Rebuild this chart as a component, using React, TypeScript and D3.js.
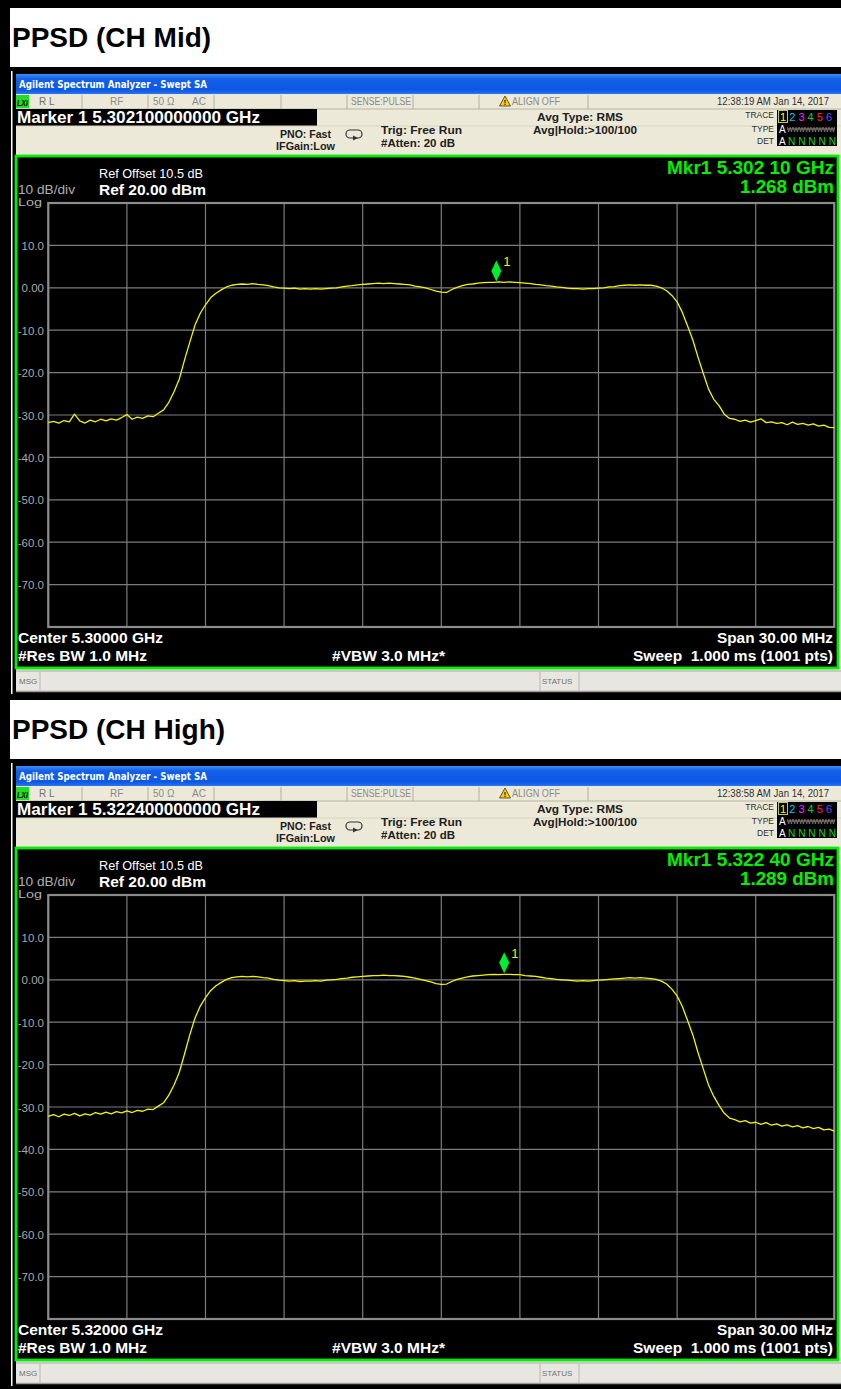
import React from "react";
import * as d3 from "d3";

const FONT = "'Liberation Sans', Arial, Helvetica, sans-serif";
const W = 841;
const H = 1389;
const PANEL_SHIFT = [0, 692];

// trace levels (dBm), sweep from -15 MHz to +15 MHz around center, 0.2 MHz step
const sweepStartMHz = -15;
const sweepStepMHz = 0.2;
const levelsMid = [
  -31.8, -31.5, -31.9, -31.3, -31.6, -29.8, -31.4, -31.9, -31.2, -31.6,
  -31.0, -31.4, -30.9, -31.2, -30.6, -29.9, -31.0, -30.5, -30.8, -30.2,
  -30.4, -29.6, -28.8, -27.0, -24.5, -21.5, -17.0, -12.8, -8.8, -6.0,
  -4.0, -2.3, -1.3, -0.5, 0.2, 0.6, 0.8, 0.9, 0.8, 1.0,
  0.8, 0.7, 0.5, 0.2, 0.0, -0.1, -0.2, -0.1, -0.3, -0.2,
  -0.3, -0.2, -0.3, -0.2, -0.1, 0.0, 0.2, 0.4, 0.5, 0.7,
  0.8, 0.9, 1.0, 1.1, 1.0, 1.1, 1.0, 0.9, 0.8, 0.7,
  0.4, 0.2, 0.0, -0.4, -0.8, -1.0, -1.1, -0.4, 0.1, 0.5,
  0.8, 0.9, 1.1, 1.2, 1.3, 1.3, 1.4, 1.3, 1.4, 1.3,
  1.2, 1.1, 1.0, 0.8, 0.7, 0.5, 0.4, 0.2, 0.1, -0.1,
  -0.2, -0.2, -0.3, -0.2, -0.2, -0.1, 0.0, 0.2, 0.3, 0.5,
  0.6, 0.7, 0.6, 0.7, 0.6, 0.6, 0.4, 0.0, -0.7, -1.8,
  -3.3, -5.8, -9.0, -12.3, -16.4, -20.2, -23.9, -26.3, -27.8, -29.8,
  -30.8, -31.0, -31.5, -31.2, -31.7, -31.3, -30.9, -31.8, -31.6, -32.0,
  -31.8, -32.3, -31.7, -32.2, -32.0, -32.4, -32.1, -32.6, -32.4, -32.9,
  -33.0,
];
const levelsHigh = [
  -32.2, -31.8, -32.3, -31.7, -32.0, -31.5, -32.1, -31.6, -31.9, -31.3,
  -31.7, -31.2, -31.6, -31.1, -31.4, -30.9, -31.3, -30.8, -31.0, -30.5,
  -30.6, -29.8, -29.0, -27.2, -24.8, -21.8, -17.5, -13.0, -9.0, -6.2,
  -4.2, -2.5, -1.4, -0.6, 0.1, 0.5, 0.7, 0.8, 0.7, 0.8,
  0.7, 0.5, 0.4, 0.1, -0.1, -0.2, -0.3, -0.2, -0.4, -0.3,
  -0.3, -0.2, -0.3, -0.1, 0.0, 0.1, 0.3, 0.4, 0.6, 0.7,
  0.8, 0.9, 1.0, 1.0, 1.1, 1.0, 1.0, 0.9, 0.8, 0.6,
  0.4, 0.1, -0.2, -0.5, -0.9, -1.1, -1.0, -0.4, 0.1, 0.4,
  0.7, 0.9, 1.0, 1.1, 1.2, 1.3, 1.2, 1.3, 1.3, 1.2,
  1.2, 1.0, 0.9, 0.8, 0.6, 0.4, 0.3, 0.1, 0.0, -0.1,
  -0.2, -0.3, -0.2, -0.3, -0.2, -0.1, 0.0, 0.1, 0.2, 0.3,
  0.4, 0.5, 0.4, 0.5, 0.4, 0.3, 0.1, -0.3, -1.0, -2.2,
  -3.8, -6.3, -9.6, -13.0, -17.2, -21.0, -24.8, -27.5, -29.6, -31.5,
  -32.6, -33.0, -33.5, -33.2, -33.8, -33.6, -34.1, -33.7, -34.3, -34.0,
  -34.5, -34.2, -34.7, -34.4, -34.9, -34.6, -35.1, -34.8, -35.4, -35.2,
  -35.7,
];
const sweepMHz = levelsMid.map((_, k) => sweepStartMHz + k * sweepStepMHz);
const traces = [levelsMid, levelsHigh];

const yGridDbm = d3.range(-80, 21, 10);
const xGridMHz = d3.range(-15, 16, 3);
const yTickValues = [10, 0, -10, -20, -30, -40, -50, -60, -70];
const yTickLabels = ["10.0", "0.00", "-10.0", "-20.0", "-30.0", "-40.0", "-50.0", "-60.0", "-70.0"];

const panelTitles = ["PPSD (CH Mid)", "PPSD (CH High)"];
const markerHeaders = ["Marker 1 5.302100000000 GHz", "Marker 1 5.322400000000 GHz"];
const markerFreqReadouts = ["Mkr1 5.302 10 GHz", "Mkr1 5.322 40 GHz"];
const markerLevelReadouts = ["1.268 dBm", "1.289 dBm"];
const markerOffsetsMHz = [2.1, 2.4];
const markerLevelsDbm = [1.268, 1.289];
const timestamps = ["12:38:19 AM Jan 14, 2017", "12:38:58 AM Jan 14, 2017"];
const centerLabels = ["Center 5.30000 GHz", "Center 5.32000 GHz"];
const traceNumColors = ["#ffff00", "#00c8ff", "#ff20ff", "#00d040", "#ff2050", "#5a50ff"];

const BEIGE = "#ece9d8";

type TP = {
  x: number; y: number; s: string; size: number; bold?: boolean; fill?: string;
  len?: number; anchor?: "start" | "middle" | "end"; italic?: boolean; family?: string;
};
function T({ x, y, s, size, bold, fill = "#000", len, anchor = "start", italic, family }: TP) {
  return (
    <text
      x={x}
      y={y}
      fontSize={size}
      fontFamily={family || FONT}
      fontWeight={bold ? "bold" : "normal"}
      fontStyle={italic ? "italic" : "normal"}
      fill={fill}
      textAnchor={anchor}
      {...(len ? { textLength: len, lengthAdjust: "spacingAndGlyphs" } : {})}
    >
      {s}
    </text>
  );
}

function Panel({ i }: { i: number }) {
  const x = d3.scaleLinear().domain([-15, 15]).range([48.3, 834.3]);
  const y = d3.scaleLinear().domain([-80, 20]).range([627, 203]);
  const levels = traces[i];
  const line = d3
    .line<number>()
    .x((_, k) => x(sweepMHz[k]))
    .y((d) => y(d));
  const mx = x(markerOffsetsMHz[i]);
  const my = y(markerLevelsDbm[i]);
  const gray = "#7c7c7c";
  const statusDividers = [82, 148, 214, 281, 347, 413, 479, 588];
  return (
    <g transform={`translate(0,${PANEL_SHIFT[i]})`}>
      {/* title box */}
      <rect x={10} y={8} width={W - 10} height={59} fill="#fff" />
      <T x={12} y={47} s={panelTitles[i]} size={28} bold fill="#000" />
      {/* white thin line left */}
      <rect x={11} y={71} width={1.5} height={623} fill="#fff" />
      {/* window */}
      <rect x={16} y={74} width={W - 16} height={618} fill={BEIGE} />
      <rect x={16} y={74} width={W - 16} height={20} fill="url(#tbgrad)" />
      <T x={19} y={88} s="Agilent Spectrum Analyzer - Swept SA" size={11} bold fill="#fff" len={188} family="'DejaVu Sans', Verdana, sans-serif" />
      {/* status row */}
      <rect x={16} y={94} width={W - 16} height={15} fill={BEIGE} />
      <line x1={16} x2={W} y1={109} y2={109} stroke="#b8b4a0" strokeWidth={1} />
      <rect x={16} y={95} width={13} height={13} fill="#22dd22" />
      <T x={17} y={106} s="LXI" size={9} bold italic fill="#000" len={11} />
      {statusDividers.map((d) => (
        <line key={d} x1={d} x2={d} y1={95} y2={109} stroke="#b4b0a0" strokeWidth={1} />
      ))}
      <T x={39} y={105} s="R L" size={10} fill="#707070" />
      <T x={110} y={105} s="RF" size={10} fill="#8a8a8a" />
      <T x={153} y={105} s="50 Ω" size={10} fill="#8a8a8a" />
      <T x={192} y={105} s="AC" size={10} fill="#8a8a8a" />
      <T x={351} y={105} s="SENSE:PULSE" size={10} fill="#8a8a8a" len={60} />
      <path d="M505,96 L510.5,106 L499.5,106 Z" fill="#f5d000" stroke="#333" strokeWidth={0.8} />
      <T x={505} y={105} s="!" size={7} bold fill="#000" anchor="middle" />
      <T x={512} y={105} s="ALIGN OFF" size={10} fill="#8a8a8a" len={48} />
      <T x={717} y={105} s={timestamps[i]} size={10} fill="#303030" len={112} />
      {/* marker black box */}
      <rect x={16} y={109} width={301} height={17} fill="#000" />
      <T x={17} y={123} s={markerHeaders[i]} size={16} bold fill="#fff" len={243} />
      <line x1={16} x2={W} y1={126} y2={126} stroke="#d8d4c0" strokeWidth={1} />
      {/* settings */}
      <T x={280} y={138} s="PNO: Fast" size={11} bold fill="#202020" len={51} />
      <T x={276} y={150} s="IFGain:Low" size={11} bold fill="#202020" len={59} />
      <rect x={346} y={130} width={16} height={8} rx={4} fill="none" stroke="#333" strokeWidth={1.2} />
      <path d="M353,135.5 L358,138 L353,140.5 Z" fill="#333" />
      <T x={381} y={134} s="Trig: Free Run" size={11.5} bold fill="#202020" len={81} />
      <T x={381} y={147} s="#Atten: 20 dB" size={11.5} bold fill="#202020" len={74} />
      <T x={537} y={121} s="Avg Type: RMS" size={11.5} bold fill="#202020" len={86} />
      <T x={533} y={134} s="Avg|Hold:>100/100" size={11.5} bold fill="#202020" len={104} />
      <T x={774} y={118} s="TRACE" size={8.5} fill="#303030" anchor="end" />
      <T x={774} y={132} s="TYPE" size={8.5} fill="#303030" anchor="end" />
      <T x={774} y={144} s="DET" size={8.5} fill="#303030" anchor="end" />
      <rect x={777} y={110} width={60} height={36} fill="#000" />
      <rect x={778.5} y={110.5} width={9} height={12} fill="none" stroke="#c8c840" strokeWidth={1} />
      {traceNumColors.map((c, k) => (
        <T key={k} x={780 + k * 9.2} y={120.5} s={String(k + 1)} size={11} fill={c} />
      ))}
      <T x={779} y={133} s="A" size={10} fill="#fff" />
      <T x={787} y={132} s="WWWWWWWW" size={7} fill="#9a9a9a" len={48} />
      <line x1={787} x2={835} y1={129} y2={129} stroke="#9a9a9a" strokeWidth={0.8} />
      <T x={779} y={144.5} s="A" size={10} fill="#fff" />
      <T x={788} y={144.5} s="N N N N N" size={10} fill="#20d020" len={48} />
      {/* green screen */}
      <rect x={16} y={156} width={822} height={512} fill="#000" stroke="#00ee00" strokeWidth={2.8} />
      <T x={667} y={174} s={markerFreqReadouts[i]} size={19} bold fill="#00f000" len={167} />
      <T x={740} y={193} s={markerLevelReadouts[i]} size={19} bold fill="#00f000" len={94} />
      <T x={99} y={178} s="Ref Offset 10.5 dB" size={12.5} fill="#fff" len={104} />
      <T x={99} y={195} s="Ref 20.00 dBm" size={15} bold fill="#fff" len={107} />
      <T x={18} y={194} s="10 dB/div" size={12.5} fill="#b0b0b0" len={57} />
      <T x={18} y={206} s="Log" size={11.5} fill="#b0b0b0" len={24} />
      {/* grid */}
      {xGridMHz.map((f) => (
        <line key={"x" + f} x1={x(f)} x2={x(f)} y1={y(20)} y2={y(-80)} stroke={gray} strokeWidth={1.2} />
      ))}
      {yGridDbm.map((v) => (
        <line key={"y" + v} x1={x(-15)} x2={x(15)} y1={y(v)} y2={y(v)} stroke={gray} strokeWidth={1.2} />
      ))}
      <rect x={x(-15)} y={y(20)} width={x(15) - x(-15)} height={y(-80) - y(20)} fill="none" stroke="#8c8c8c" strokeWidth={2.2} />
      {yTickValues.map((v, k) => (
        <T key={"t" + v} x={44} y={y(v) + 4.5} s={yTickLabels[k]} size={11.5} fill="#a8a8a8" anchor="end" />
      ))}
      {/* trace */}
      <path d={line(levels) || ""} fill="none" stroke="#f4f400" strokeWidth={1.3} strokeLinejoin="round" />
      {/* marker */}
      <path
        d={`M${mx},${my - 1} L${mx + 5},${my - 11.5} L${mx},${my - 22} L${mx - 5},${my - 11.5} Z`}
        fill="#00ee30"
      />
      <T x={mx + 7} y={my - 16} s="1" size={13} fill="#f0f000" />
      {/* bottom texts */}
      <T x={18} y={643} s={centerLabels[i]} size={15} bold fill="#fff" len={145} />
      <T x={18} y={661} s="#Res BW 1.0 MHz" size={15} bold fill="#fff" len={129} />
      <T x={332} y={661} s="#VBW 3.0 MHz*" size={15} bold fill="#fff" len={113} />
      <T x={717} y={643} s="Span 30.00 MHz" size={15} bold fill="#fff" len={116} />
      <T x={633} y={661} s={"Sweep\u00a0 1.000 ms (1001 pts)"} size={15} bold fill="#fff" len={200} />
      {/* message row */}
      <rect x={16} y={671} width={W - 16} height={21} fill="#e8e6e0" />
      <line x1={16} x2={W} y1={671} y2={671} stroke="#a8a8a8" strokeWidth={1} />
      <line x1={16} x2={W} y1={691.5} y2={691.5} stroke="#9a9a9a" strokeWidth={1.5} />
      <line x1={40} x2={40} y1={672} y2={691} stroke="#b8b8b8" strokeWidth={1} />
      <line x1={540} x2={540} y1={672} y2={691} stroke="#b8b8b8" strokeWidth={1} />
      <line x1={579} x2={579} y1={672} y2={691} stroke="#b8b8b8" strokeWidth={1} />
      <T x={19} y={684} s="MSG" size={8} fill="#707070" />
      <T x={542} y={684} s="STATUS" size={8} fill="#707070" />
    </g>
  );
}

export default function App() {
  return (
    <svg
      width={W}
      height={H}
      viewBox={`0 0 ${W} ${H}`}
      style={{ position: "absolute", left: 0, top: 0, display: "block" }}
    >
      <defs>
        <linearGradient id="tbgrad" x1="0" y1="0" x2="0" y2="1">
          <stop offset="0" stopColor="#3c8cf8" />
          <stop offset="0.25" stopColor="#1460e8" />
          <stop offset="0.8" stopColor="#0b58e4" />
          <stop offset="1" stopColor="#2a74f0" />
        </linearGradient>
      </defs>
      <rect x={0} y={0} width={W} height={H} fill="#000" />
      <Panel i={0} />
      <Panel i={1} />
    </svg>
  );
}
